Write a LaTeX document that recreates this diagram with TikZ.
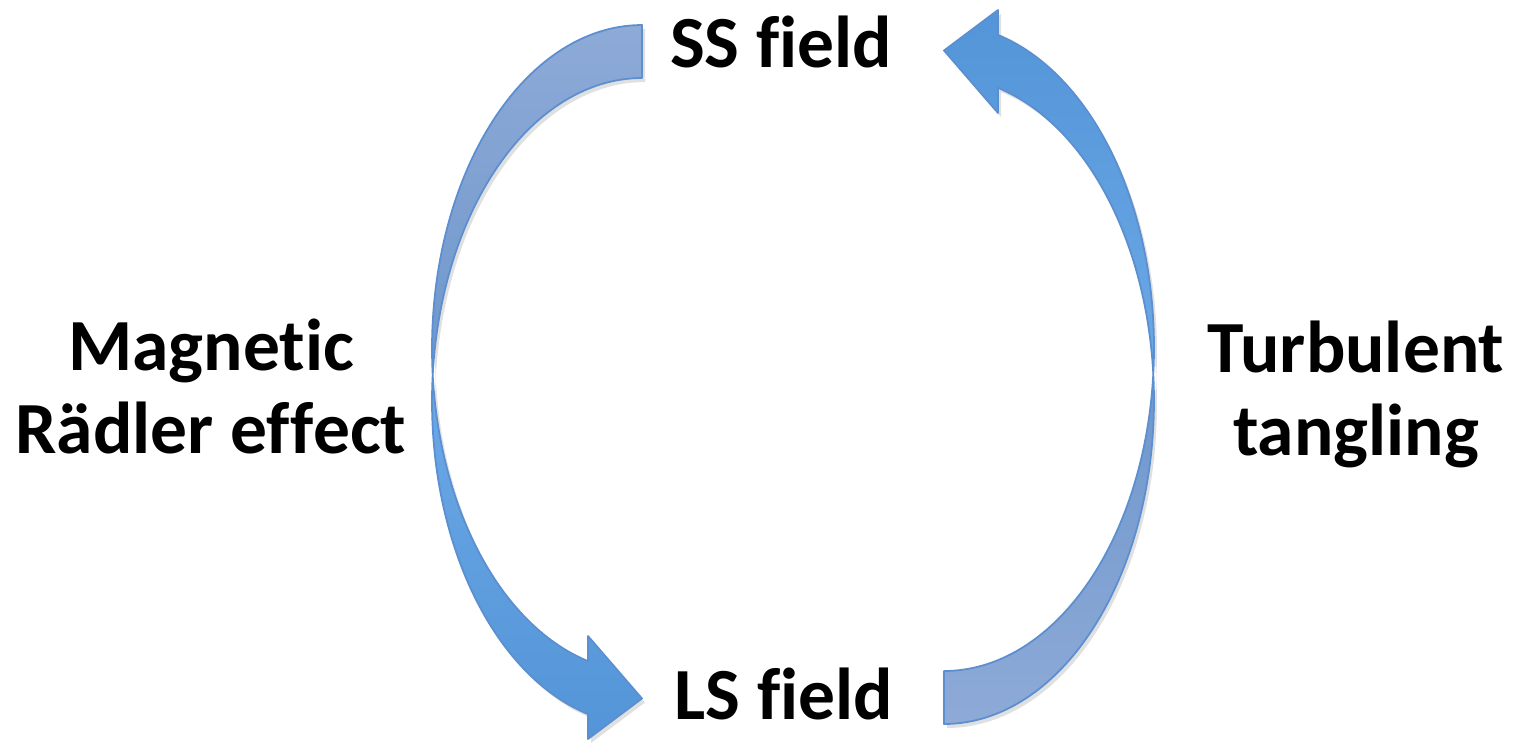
\documentclass[tikz,border=0pt]{standalone}
\usepackage{fontspec}
\setmainfont{Carlito}[Ligatures={NoCommon,NoRare,NoContextual},RawFeature={-liga;-clig;-dlig}]
\newcommand\nl{\kern0pt }
\definecolor{outl}{HTML}{5B8FD0}
\definecolor{tailc}{HTML}{8EAAD7}
\definecolor{midd}{HTML}{6E97CC}
\definecolor{midb}{HTML}{6CA8E6}
\definecolor{headc}{HTML}{5395D8}
\begin{document}
\begin{tikzpicture}[x=0.01cm,y=-0.01cm,
  lbl/.style={font=\bfseries\fontsize{20.9}{23.6}\selectfont, inner sep=0pt, align=center},
  band/.style={draw=outl, line width=0.5pt, line join=round},
  shadowband/.style={fill=black, opacity=0.12, draw=none},
  % left arrow, upper piece (tail)
  lu/.style={insert path={plot[domain=270:175.3,samples=60,variable=\t] ({642+210*cos(\t)},{348.5+323.5*sin(\t)}) -- plot[domain=184.7:270,samples=60,variable=\t] ({642+210*cos(\t)},{401.5+323.5*sin(\t)}) -- cycle}},
  % left arrow, lower piece (head)
  ll/.style={insert path={plot[domain=184.7:104.9,samples=60,variable=\t] ({642+210*cos(\t)},{401.5+323.5*sin(\t)}) -- (588,739) -- (642,698.5) -- (588,636) -- (588,662) -- plot[domain=104.9:175.3,samples=60,variable=\t] ({642+210*cos(\t)},{348.5+323.5*sin(\t)}) -- cycle}},
  % right arrow, upper piece (head) = point mirror of ll
  ru/.style={insert path={plot[domain=184.7:104.9,samples=60,variable=\t] ({1586-642-210*cos(\t)},{749-401.5-323.5*sin(\t)}) -- (998,10) -- (944,50.5) -- (998,113) -- (998,87) -- plot[domain=104.9:175.3,samples=60,variable=\t] ({1586-642-210*cos(\t)},{749-348.5-323.5*sin(\t)}) -- cycle}},
  % right arrow, lower piece (tail) = point mirror of lu
  rl/.style={insert path={plot[domain=270:175.3,samples=60,variable=\t] ({1586-642-210*cos(\t)},{749-348.5-323.5*sin(\t)}) -- plot[domain=184.7:270,samples=60,variable=\t] ({1586-642-210*cos(\t)},{749-401.5-323.5*sin(\t)}) -- cycle}}
]
\useasboundingbox (0,0) rectangle (1526,744);

% soft shadows
\foreach \s in {lu,ll,ru,rl}{
  \path[shadowband, shift={(3,4)}, \s];
}

% left arrow (Magnetic Raedler effect: SS -> LS)
\path[band, top color=tailc, bottom color=midd, lu];
\path[band, top color=midb, bottom color=headc, ll];
% right arrow (Turbulent tangling: LS -> SS)
\path[band, top color=headc, bottom color=midb, ru];
\path[band, top color=midd, bottom color=tailc, rl];

% labels
\node[lbl, anchor=base] (ss) at (781,67) {SS f\nl ield};
\node[lbl, anchor=base] (ls) at (784,719) {LS f\nl ield};
\node[lbl, anchor=base] (mag) at (211,453) {Magnet\nl ic\\Rädler ef\nl f\nl ect};
\node[lbl, anchor=base] (turb) at (1356,455) {Turbulent\\tangling};
\end{tikzpicture}
\end{document}
